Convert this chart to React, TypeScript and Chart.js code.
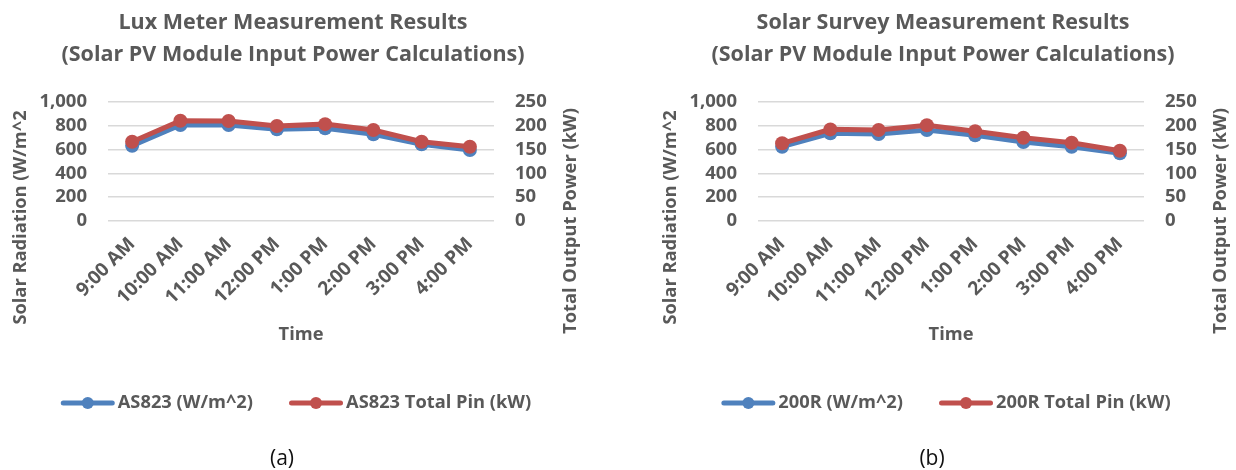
import React, { useEffect, useRef } from "react";
import { Chart, registerables } from "chart.js";

Chart.register(...registerables);

// ---------- data ----------
const categories = ["9:00 AM", "10:00 AM", "11:00 AM", "12:00 PM", "1:00 PM", "2:00 PM", "3:00 PM", "4:00 PM"];

const luxRadiation = [631, 805, 805, 769, 777, 727, 643, 595];
const luxPower = [166, 210, 209.5, 199, 203, 190.7, 166, 155.7];

const surveyRadiation = [623, 735, 729, 763, 718, 662, 623, 567];
const surveyPower = [162.8, 192, 190.7, 200.5, 188, 174.6, 164, 147.3];

const leftAxisMax = 1000;
const leftAxisStep = 200;
const rightAxisMax = 250;
const rightAxisStep = 50;

const panelA = {
  titleLines: ["Lux Meter Measurement Results", "(Solar PV Module Input Power Calculations)"],
  radiationLabel: "AS823 (W/m^2)",
  powerLabel: "AS823 Total Pin (kW)",
  caption: "(a)",
  radiation: luxRadiation,
  power: luxPower,
};

const panelB = {
  titleLines: ["Solar Survey Measurement Results", "(Solar PV Module Input Power Calculations)"],
  radiationLabel: "200R (W/m^2)",
  powerLabel: "200R Total Pin (kW)",
  caption: "(b)",
  radiation: surveyRadiation,
  power: surveyPower,
};

const leftAxisTitle = "Solar Radiation (W/m^2";
const rightAxisTitle = "Total Output Power (kW)";
const xAxisTitle = "Time";

// ---------- style ----------
const FONT = "'Open Sans', 'Liberation Sans', sans-serif";
const GREY = "#595959";
const BLUE = "#4F81BD";
const RED = "#C0504D";
const GRID = "#D9D9D9";
const H = 470;
const PLOT_LEFT = 108;
const PLOT_RIGHT = 494;
const PLOT_TOP = 101.7;
const PLOT_BOTTOM = 221;

type Panel = typeof panelA;

function decorPlugin(p: Panel, W: number) {
  return {
    id: "decor",
    afterDraw(chart: any) {
      const ctx: CanvasRenderingContext2D = chart.ctx;
      ctx.save();
      ctx.fillStyle = GREY;
      ctx.textAlign = "center";
      ctx.textBaseline = "middle";
      // title
      ctx.font = `bold 21.5px ${FONT}`;
      ctx.fillText(p.titleLines[0], 293, 23);
      ctx.fillText(p.titleLines[1], 293, 55);
      // axis titles
      ctx.font = `bold 18.3px ${FONT}`;
      ctx.fillText(xAxisTitle, (PLOT_LEFT + PLOT_RIGHT) / 2, 335);
      ctx.save();
      ctx.translate(21, 217.5);
      ctx.rotate(-Math.PI / 2);
      ctx.fillText(leftAxisTitle, 0, 0);
      ctx.restore();
      ctx.save();
      ctx.translate(571, 221);
      ctx.rotate(-Math.PI / 2);
      ctx.fillText(rightAxisTitle, 0, 0);
      ctx.restore();
      // legend
      ctx.font = `bold 18.3px ${FONT}`;
      const lineLen = 54;
      const gapText = 3;
      const gapItems = 36;
      const items = [
        { label: p.radiationLabel, color: BLUE },
        { label: p.powerLabel, color: RED },
      ];
      const widths = items.map((it) => lineLen + gapText + ctx.measureText(it.label).width);
      const total = widths[0] + gapItems + widths[1];
      let x = 296 - total / 2;
      const ly = 403;
      items.forEach((it, i) => {
        ctx.strokeStyle = it.color;
        ctx.lineWidth = 5;
        ctx.lineCap = "round";
        ctx.beginPath();
        ctx.moveTo(x + 2.5, ly);
        ctx.lineTo(x + lineLen - 2.5, ly);
        ctx.stroke();
        ctx.fillStyle = it.color;
        ctx.beginPath();
        ctx.arc(x + lineLen / 2, ly, 6, 0, Math.PI * 2);
        ctx.fill();
        ctx.fillStyle = GREY;
        ctx.textAlign = "left";
        ctx.fillText(it.label, x + lineLen + gapText, ly);
        x += widths[i] + gapItems;
      });
      // caption
      ctx.fillStyle = "#111";
      ctx.textAlign = "center";
      ctx.font = `21px ${FONT}`;
      ctx.fillText(p.caption, 282, 459);
      ctx.restore();
    },
  };
}

function makeConfig(p: Panel, W: number): any {
  const tickFont = { family: FONT, size: 18.5, weight: "bold" as const };
  return {
    type: "line",
    data: {
      labels: categories,
      datasets: [
        {
          label: p.radiationLabel,
          data: p.radiation,
          yAxisID: "y",
          borderColor: BLUE,
          backgroundColor: BLUE,
          borderWidth: 5,
          pointRadius: 7,
          pointHoverRadius: 7,
          pointBorderWidth: 0,
          tension: 0,
          order: 1,
        },
        {
          label: p.powerLabel,
          data: p.power,
          yAxisID: "y1",
          borderColor: RED,
          backgroundColor: RED,
          borderWidth: 5,
          pointRadius: 7,
          pointHoverRadius: 7,
          pointBorderWidth: 0,
          tension: 0,
          order: 0,
        },
      ],
    },
    options: {
      responsive: false,
      animation: false,
      locale: "en-US",
      events: [],
      layout: { padding: { left: 0, right: 0, top: PLOT_TOP, bottom: 0 } },
      plugins: {
        legend: { display: false },
        title: { display: false },
        tooltip: { enabled: false },
      },
      scales: {
        x: {
          offset: true,
          grid: { display: false, drawTicks: false },
          border: { display: false },
          ticks: {
            font: { family: FONT, size: 19, weight: "bold" },
            color: GREY,
            minRotation: 45,
            maxRotation: 45,
            autoSkip: false,
            padding: 12,
          },
          afterFit: (a: any) => {
            a.height = H - PLOT_BOTTOM;
          },
        },
        y: {
          position: "left",
          min: 0,
          max: leftAxisMax,
          ticks: { stepSize: leftAxisStep, autoSkip: false, font: tickFont, color: GREY, padding: 21 },
          grid: { color: GRID, lineWidth: 1.5, drawTicks: false },
          border: { display: false },
          afterFit: (a: any) => {
            a.width = PLOT_LEFT;
          },
        },
        y1: {
          position: "right",
          min: 0,
          max: rightAxisMax,
          ticks: { stepSize: rightAxisStep, autoSkip: false, font: tickFont, color: GREY, padding: 21 },
          grid: { display: false, drawTicks: false },
          border: { display: false },
          afterFit: (a: any) => {
            a.width = W - PLOT_RIGHT;
          },
        },
      },
    },
    plugins: [decorPlugin(p, W)],
  };
}

function ChartPanel({ panel, width, left }: { panel: Panel; width: number; left: number }) {
  const ref = useRef<HTMLCanvasElement | null>(null);
  useEffect(() => {
    if (!ref.current) return;
    const chart = new Chart(ref.current, makeConfig(panel, width));
    return () => chart.destroy();
  }, [panel, width]);
  return (
    <canvas
      ref={ref}
      width={width}
      height={H}
      style={{ position: "absolute", left, top: 0, width, height: H, display: "block" }}
    />
  );
}

export default function App() {
  return (
    <div
      style={{
        position: "absolute",
        left: 0,
        top: 0,
        width: 1236,
        height: 470,
        overflow: "hidden",
        background: "#fff",
      }}
    >
      <ChartPanel panel={panelA} width={600} left={0} />
      <ChartPanel panel={panelB} width={586} left={650} />
    </div>
  );
}
